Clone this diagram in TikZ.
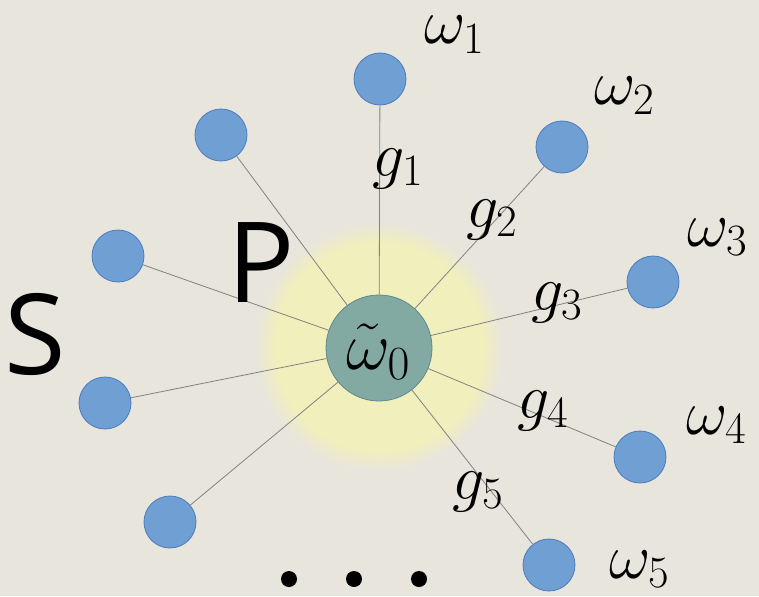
\RequirePackage{fix-cm}
\documentclass[tikz,border=0pt]{standalone}
\usepackage{fontspec}
\newfontfamily\labelsans{Open Sans}
\definecolor{paper}{RGB}{232,229,220}
\definecolor{glow}{RGB}{241,239,188}
\definecolor{bluefill}{RGB}{112,159,211}
\definecolor{blueline}{RGB}{74,124,190}
\definecolor{hubfill}{RGB}{130,170,163}
\definecolor{hubline}{RGB}{92,138,142}
\definecolor{spoke}{RGB}{130,130,130}
\pgfdeclareradialshading{halo}{\pgfpoint{0bp}{0bp}}{%
  color(0bp)=(glow);
  color(21bp)=(glow);
  color(25bp)=(paper);
  color(50bp)=(paper)}
\tikzset{
  mode/.style={circle, fill=bluefill, draw=blueline, line width=0.8pt,
    minimum size=52pt, inner sep=0pt},
  hub/.style={circle, fill=hubfill, draw=hubline, line width=0.8pt,
    minimum size=106pt, inner sep=0pt},
  coupling/.style={draw=spoke, line width=0.8pt},
  mathlbl/.style={inner sep=0pt, anchor=base west,
    font=\fontsize{64}{70}\selectfont},
  biglbl/.style={inner sep=0pt, anchor=base west,
    font=\fontsize{112}{120}\selectfont\labelsans},
  dot/.style={circle, fill=black, minimum size=16pt, inner sep=0pt}
}
\begin{document}
\begin{tikzpicture}[x=1pt, y=-1pt]
  % canvas
  \fill[paper] (0,0) rectangle (759,596);
  \useasboundingbox (0,0) rectangle (759,596);

  % soft halo around the central mode
  \shade[shading=halo] (379,347) circle (124);

  % central mode and its neighbours
  \node[hub] (c) at (379,348) {};
  \node[mode] (n1) at (380,79) {};
  \node[mode] (n2) at (562,147) {};
  \node[mode] (n3) at (653,282) {};
  \node[mode] (n4) at (640,457) {};
  \node[mode] (n5) at (549,565) {};
  \node[mode] (m1) at (221,135) {};
  \node[mode] (m2) at (118,256) {};
  \node[mode] (m3) at (105,403) {};
  \node[mode] (m4) at (170,522) {};

  % couplings
  \foreach \t in {n1,n2,n3,n4,n5,m1,m2,m3,m4}
    \draw[coupling] (c) -- (\t);

  % hub label
  \node[mathlbl, font=\fontsize{68}{74}\selectfont] (c0) at (346,369) {$\tilde{\omega}_0$};

  % frequency labels
  \node[mathlbl] (w1) at (424,44) {$\omega_1$};
  \node[mathlbl] (w2) at (594,105) {$\omega_2$};
  \node[mathlbl] (w3) at (687,246) {$\omega_3$};
  \node[mathlbl] (w4) at (686,434) {$\omega_4$};
  \node[mathlbl] (w5) at (609,578) {$\omega_5$};

  % coupling labels
  \node[mathlbl] (g1) at (372,176) {$g_1$};
  \node[mathlbl] (g2) at (466,227) {$g_2$};
  \node[mathlbl] (g3) at (531,310) {$g_3$};
  \node[mathlbl] (g4) at (517,418) {$g_4$};
  \node[mathlbl] (g5) at (452,499) {$g_5$};

  % region letters
  \node[biglbl] (P) at (227,302) {P};
  \node[biglbl] (S) at (4,374) {S};

  % ellipsis
  \node[dot] (d1) at (289,579) {};
  \node[dot] (d2) at (354,579) {};
  \node[dot] (d3) at (419,579) {};
\end{tikzpicture}
\end{document}
